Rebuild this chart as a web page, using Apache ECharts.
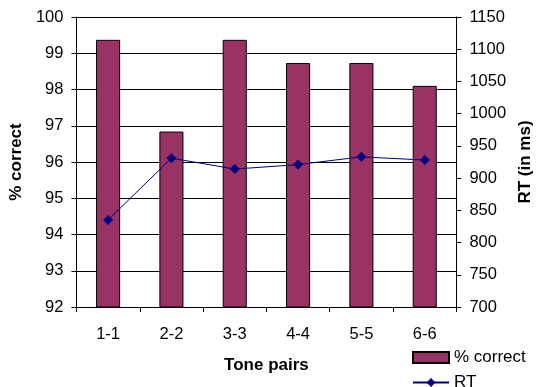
<!DOCTYPE html>
<html>
<head>
<meta charset="utf-8">
<script src="https://cdn.jsdelivr.net/npm/echarts@6/dist/echarts.min.js"></script>
<style>
  html, body { margin: 0; padding: 0; background: #fff; }
  #chart { width: 542px; height: 387px; }
</style>
</head>
<body>
<div id="chart"></div>
<script>
// Tone pair categories and measured results
const tonePairs = ['1-1', '2-2', '3-3', '4-4', '5-5', '6-6'];
const percentCorrect = [99.37, 96.84, 99.37, 98.73, 98.73, 98.10];
const rtMs = [835, 931, 914, 921, 933, 928];

const FONT = '"Liberation Sans", Arial, sans-serif';
const chart = echarts.init(document.getElementById('chart'), null, { renderer: 'canvas' });

// one legend block per series, stacked in the lower right corner
function legendBlock(name, top, icon) {
  const item = icon ? { name: name, icon: icon } : { name: name };
  return {
    orient: 'vertical',
    left: 412,
    top: top,
    padding: 0,
    itemWidth: 36,
    itemHeight: 11,
    itemGap: 0,
    textStyle: { fontFamily: FONT, fontSize: 17, color: '#000', padding: [0, 0, 0, 0] },
    data: [item]
  };
}

chart.setOption({
  animation: false,
  backgroundColor: '#ffffff',
  textStyle: { fontFamily: FONT, color: '#000' },
  grid: { left: 75, right: 76, top: 17, bottom: 80, containLabel: false },
  legend: [
    legendBlock('% correct', 349, 'rect'),
    legendBlock('RT', 374)
  ],
  xAxis: {
    type: 'category',
    data: tonePairs,
    boundaryGap: true,
    name: 'Tone pairs',
    nameLocation: 'middle',
    nameGap: 50,
    nameTextStyle: { fontFamily: FONT, fontSize: 17, fontWeight: 'bold', color: '#000' },
    axisLine: { lineStyle: { color: '#000', width: 1 } },
    axisTick: { show: true, length: 5, alignWithLabel: false, lineStyle: { color: '#000' } },
    axisLabel: { fontFamily: FONT, fontSize: 16.5, color: '#000', margin: 19 },
    splitLine: { show: false }
  },
  yAxis: [
    {
      type: 'value',
      min: 92,
      max: 100,
      interval: 1,
      position: 'left',
      name: '% correct',
      nameLocation: 'middle',
      nameRotate: 90,
      nameGap: 47,
      nameTextStyle: { fontFamily: FONT, fontSize: 17, fontWeight: 'bold', color: '#000' },
      axisLine: { show: true, lineStyle: { color: '#000', width: 1 } },
      axisTick: { show: true, length: 5, lineStyle: { color: '#000' } },
      axisLabel: { fontFamily: FONT, fontSize: 16.5, color: '#000', margin: 13 },
      splitLine: { show: true, lineStyle: { color: '#000', width: 1 } }
    },
    {
      type: 'value',
      min: 700,
      max: 1150,
      interval: 50,
      position: 'right',
      name: 'RT (in ms)',
      nameLocation: 'middle',
      nameRotate: 90,
      nameGap: 52,
      nameTextStyle: { fontFamily: FONT, fontSize: 17, fontWeight: 'bold', color: '#000' },
      axisLine: { show: true, lineStyle: { color: '#000', width: 1 } },
      axisTick: { show: true, length: 5, lineStyle: { color: '#000' } },
      axisLabel: {
        fontFamily: FONT, fontSize: 16.5, color: '#000', margin: 13,
        formatter: function (v) { return String(v); }
      },
      splitLine: { show: false }
    }
  ],
  series: [
    {
      name: '% correct',
      type: 'bar',
      yAxisIndex: 0,
      data: percentCorrect,
      barWidth: '38%',
      itemStyle: { color: '#993366', borderColor: '#000', borderWidth: 1 }
    },
    {
      name: 'RT',
      type: 'line',
      yAxisIndex: 1,
      data: rtMs,
      symbol: 'diamond',
      symbolSize: 10,
      lineStyle: { color: '#000080', width: 1 },
      itemStyle: { color: '#000080' }
    }
  ]
});
</script>
</body>
</html>
